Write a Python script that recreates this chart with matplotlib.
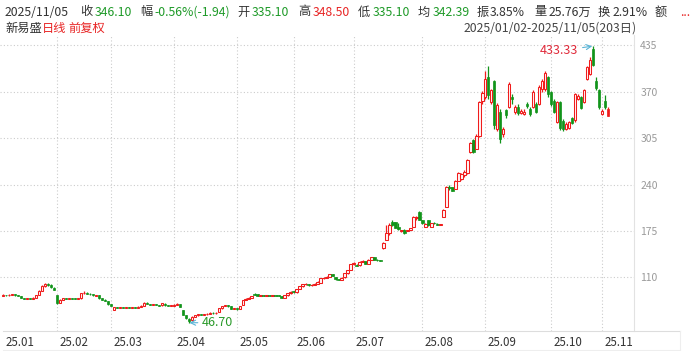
import matplotlib
matplotlib.use("Agg")
import matplotlib.pyplot as plt
import matplotlib.transforms as mtransforms
from matplotlib.lines import Line2D
import pandas as pd
import numpy as np

plt.rcParams['font.family'] = ['Noto Sans CJK SC', 'DejaVu Sans']

# ---------------- data ----------------
holidays = ['2025-01-01', '2025-01-28', '2025-01-29', '2025-01-30', '2025-01-31',
            '2025-02-03', '2025-02-04', '2025-04-04', '2025-05-01', '2025-05-02',
            '2025-05-05', '2025-06-02', '2025-10-01', '2025-10-02', '2025-10-03',
            '2025-10-06', '2025-10-07', '2025-10-08']

opens = [84.5, 85.5, 85, 86, 86.5, 85, 84, 81.5, 80.5, 81, 80.5, 82, 85.5, 91, 98, 100.5, 100, 96,
         85, 75, 79, 81, 80, 81.5, 80.5, 80, 81, 88, 89, 87, 86.5, 84.5, 85, 81, 79, 77,
         72.5, 65, 68.5, 67.5, 68, 67.5, 68, 67.5, 68, 67.5, 69, 70.5, 75, 73, 71.5, 72, 71.5, 71, 73.5, 71, 70,
         70.5, 72, 73, 64, 57, 52, 50, 55, 57, 58.5, 58, 58.5, 59.5, 61, 60, 62, 67, 70, 71, 69.5, 66,
         67, 66, 71.5, 78.5, 80.5, 82, 87.5, 87, 84.5, 85, 84.5, 85, 84.5, 85, 84.5, 84, 82, 85, 88,
         91, 89.5, 94, 97.5, 100.5, 101, 99, 100, 101.5, 103, 109, 109.5, 110.5, 115, 110, 107.5, 107, 110, 116, 121,
         129, 128, 127, 132, 133, 129.5, 135, 138, 135, 134, 151, 163, 172, 187, 187, 181, 175, 177, 175, 177, 181, 193, 202,
         190, 181, 190, 181, 186, 185, 183.5, 195, 209, 236, 236, 234, 245, 248, 253, 256, 286, 302, 290, 308, 357,
         362, 390, 356, 384, 318, 342, 310, 344, 349, 362, 341, 349, 340, 339, 352, 346, 349, 353, 353, 373, 374, 390,
         369, 357, 328, 355, 329, 318, 319, 333, 330, 360, 362, 356, 388, 395, 430, 384, 372,
         339, 357, 335.1]
closes = [85.5, 85, 86, 86.5, 85, 84, 81.5, 80.5, 81, 80.5, 82, 85.5, 91, 98, 100.5, 100, 97, 92.5,
          74.5, 79, 81, 80, 81.5, 80.5, 80, 81, 88, 89, 87, 86.5, 85, 85.5, 81, 79, 77.5, 72.5,
          70, 68.5, 67.5, 68, 67.5, 68, 67.5, 68, 67.5, 69, 70.5, 75, 73, 71.5, 72, 71.5, 70.5, 74, 71, 70, 70.5,
          72, 73.5, 69, 57.5, 53.5, 49, 55, 57, 58.5, 58, 58.5, 59.5, 61, 60, 61, 67, 70, 71, 69.5, 66, 67,
          65.5, 69.5, 78.5, 80.5, 82, 84, 85.5, 84.5, 85, 84.5, 85, 84.5, 85, 84.5, 84, 82, 85, 88, 90,
          89.5, 93.5, 97.5, 100.5, 101, 99, 100, 101.5, 104, 109, 109.5, 110.5, 115, 112, 107.5, 107, 109.5, 116, 120, 129,
          130, 126.5, 132, 133.5, 129.5, 135, 138, 135, 134, 133, 158, 172, 183, 183.5, 179.5, 178, 175.5, 172.5, 176.5, 178.5, 194, 193.5, 190.5,
          186, 185, 183, 186, 185.5, 184, 184.5, 205, 236, 234.5, 231.5, 245, 256, 255, 257, 274, 298, 286, 308, 355, 368,
          388, 365, 372, 323, 351, 304, 318, 337, 381, 359, 349, 340, 343, 342, 350, 339, 369, 342, 376, 385, 396, 366,
          352, 342, 355, 319, 317, 325, 327, 326, 366, 364, 347, 372, 404, 414, 407, 375, 348,
          343, 348.04, 346.1]
highs = [86.5, 86, 87, 87.5, 87, 85.5, 84, 82, 81.5, 81.5, 82.5, 86, 92, 99, 103, 102, 100.5, 96.5,
         86, 79.5, 81.5, 81.5, 82, 82, 81, 81.5, 88.5, 91.5, 89.5, 88, 87, 86, 85.5, 81.5, 79.5, 77.5,
         73, 69, 69, 68.5, 68.5, 68.5, 68.5, 68.5, 68.5, 69.5, 71, 75.5, 75.5, 73.5, 72.5, 72.5, 72, 74.5, 74, 71.5, 71,
         72.5, 74, 73.5, 65, 58, 53, 55.5, 57.5, 59, 59, 59, 60, 61.5, 61.5, 61.5, 67.5, 70.5, 72, 71.5, 70, 67.5,
         67.5, 70, 79, 81, 83, 84.5, 89, 87.5, 85.5, 85.5, 85.5, 85.5, 86, 85.5, 85, 84.5, 85.5, 88.5, 90.5,
         91.5, 94, 98, 101, 102, 101.5, 100.5, 102, 104.5, 109.5, 110.5, 111.5, 115.5, 115.5, 110.5, 108, 110, 116.5, 120.5, 129.5,
         131, 128.5, 132.5, 134, 133.5, 135.5, 139, 138.5, 135.5, 134.5, 159, 183, 186, 190, 188, 186, 177, 177.5, 177, 179, 195.5, 196, 203,
         191, 185.5, 190.5, 186.5, 187, 186, 185, 206, 238, 240, 237, 246, 258, 256, 260, 276, 300, 304, 310, 357, 371,
         398, 405, 374, 386, 354, 345, 320, 346, 383, 366, 351, 352, 346, 345, 356, 348, 372, 356, 379, 388, 399, 392,
         371, 359, 357, 357, 331, 327, 329, 334, 368, 366, 364, 374, 406, 418, 433.33, 390, 374,
         346, 365, 348.5]
lows = [84, 84.5, 84.5, 85.5, 84.5, 83.5, 81, 80, 80, 80, 80, 81.5, 85, 90.5, 97, 98.5, 96, 92,
        73.5, 74.5, 78.5, 79.5, 79.5, 80, 79.5, 79.5, 80.5, 87, 86.5, 86, 84.5, 84, 80.5, 78.5, 77, 72,
        69.5, 64, 67, 67, 67, 67, 67, 67, 67, 67, 68.5, 70, 72.5, 71, 71, 71, 70, 70.5, 70.5, 69.5, 69.5,
        70, 71.5, 68.5, 57, 52.5, 46.7, 49.5, 54.5, 56.5, 57.5, 57.5, 58, 59, 59.5, 59.5, 61.5, 66.5, 69.5, 69, 65.5, 65.5,
        65, 65.5, 71, 78, 80, 81.5, 85, 84, 84, 84, 84, 84, 84, 84, 83.5, 81.5, 81.5, 84.5, 87.5,
        89, 89, 93.5, 97, 100, 98.5, 98.5, 99.5, 101, 102.5, 108, 109, 110.5, 111.5, 107, 106.5, 106.5, 109.5, 115.5, 120.5,
        128, 126, 126.5, 131.5, 129, 129, 134.5, 134.5, 133.5, 132.5, 150.5, 162.5, 169, 182, 178.5, 177, 173, 171.5, 174.5, 176.5, 180.5, 191, 190,
        185, 180.5, 182, 180.5, 184.5, 183.5, 183, 194.5, 208.5, 233, 230.5, 233.5, 244.5, 246, 251, 254.5, 284, 284, 289, 306, 352,
        360, 360, 352, 318, 315, 298, 307, 333, 347, 352, 339, 337, 338, 337, 347, 336, 347, 340, 351, 370, 371, 363,
        350, 340, 326, 316, 315, 316, 317, 324, 328, 358, 345, 354, 386, 393, 405, 372, 345,
        337, 346, 335.1]

ytick_values = [110, 175, 240, 305, 370, 435]
high_label = '433.33'
low_label = '46.70'

dates = pd.bdate_range('2025-01-02', '2025-11-05', freq='C', holidays=holidays)
n = min(len(dates), len(closes))
dates = dates[:n]

# ---------------- figure ----------------
W, H = 691, 351
fig = plt.figure(figsize=(W / 100, H / 100), dpi=100)
fig.patch.set_facecolor('white')

ax_left, ax_right, ax_top, ax_bot = 0, 634, 35, 331
ax = fig.add_axes([ax_left / W, 1 - ax_bot / H, (ax_right - ax_left) / W, (ax_bot - ax_top) / H])
ax.set_facecolor('white')

RED = '#f01c1c'
GREEN = '#11941a'

for i in range(n):
    o, c, h, l = opens[i], closes[i], highs[i], lows[i]
    up = c >= o
    col = RED if up else GREEN
    ax.vlines(i, l, h, color=col, linewidth=0.9, zorder=2)
    bottom = min(o, c)
    height = max(abs(c - o), 0.9)
    if up and i != n - 1:
        ax.bar(i, height, bottom=bottom, width=0.8, facecolor='#fff4f4', edgecolor=col,
               linewidth=0.75, zorder=3)
    else:
        ax.bar(i, height, bottom=bottom, width=0.8, facecolor=col, edgecolor=col,
               linewidth=0.5, zorder=3)

ax.set_xlim(-1.035, 210.65)
ax.set_ylim(35.2, 449)

# grid
month_start = [0] + [k for k in range(1, n) if dates[k].month != dates[k - 1].month]
for k in month_start[1:]:
    ax.axvline(k, color='#cccccc', linewidth=0.8, linestyle=(0, (1, 2)), zorder=0)
for v in ytick_values:
    ax.axhline(v, color='#cccccc', linewidth=0.8, linestyle=(0, (1, 2)), zorder=0)

for s in ['top', 'left', 'bottom']:
    ax.spines[s].set_visible(False)
ax.spines['right'].set_color('#e2e2e2')
ax.spines['right'].set_linestyle((0, (1, 1)))
ax.spines['right'].set_linewidth(0.8)

ax.yaxis.tick_right()
ax.set_yticks(ytick_values)
ax.set_yticklabels([str(v) for v in ytick_values])
ax.tick_params(axis='y', length=0, pad=4.5, labelsize=7.5, labelcolor='#9a9a9a')

ax.set_xticks(month_start)
ax.set_xticklabels([d.strftime('%y.%m') for d in dates[month_start]])
ax.tick_params(axis='x', length=0, pad=3.5, labelsize=8.3, labelcolor='#333333')
offset = mtransforms.ScaledTranslation(2.5 / 100, 0, fig.dpi_scale_trans)
for lab in ax.get_xticklabels():
    lab.set_horizontalalignment('left')
    lab.set_transform(lab.get_transform() + offset)

# axis band lines
fig.add_artist(Line2D([3 / W, 680 / W], [1 - 331 / H, 1 - 331 / H], color='#dddddd', linewidth=0.8))
fig.add_artist(Line2D([3 / W, 680 / W], [1 - 349.5 / H, 1 - 349.5 / H], color='#eeeeee', linewidth=0.8))
fig.add_artist(Line2D([680 / W, 680 / W], [1 - 349.5 / H, 1 - 331 / H], color='#eeeeee', linewidth=0.8))

# annotations
hi_i = int(np.argmax(highs[:n]))
lo_i = int(np.argmin(lows[:n]))
ax.annotate(high_label, xy=(hi_i - 0.3, highs[hi_i]), xytext=(hi_i - 4.9, highs[hi_i] - 6.5),
            ha='right', va='center', color='#e02a3a', fontsize=9,
            arrowprops=dict(arrowstyle='->', color='#5ab4d6', lw=0.8, shrinkA=1, shrinkB=0))
ax.annotate(low_label, xy=(lo_i + 0.2, lows[lo_i]), xytext=(lo_i + 4.4, lows[lo_i] + 0.3),
            ha='left', va='center', color='#2a9a2a', fontsize=9,
            arrowprops=dict(arrowstyle='->', color='#5ab4d6', lw=0.8, shrinkA=1, shrinkB=0))

# header text
DARK = '#333333'
HG = '#1e9a28'
HR = '#e82525'
fs = 8.8
y1 = 1 - 12 / H
y2 = 1 - 28.5 / H
header = [
    (5, '2025/11/05', DARK), (80, '收', DARK), (94.5, '346.10', HG),
    (140, '幅', DARK), (154.5, '-0.56%(-1.94)', HG),
    (237, '开', DARK), (251.5, '335.10', HG),
    (298, '高', DARK), (312.5, '348.50', HR),
    (358, '低', DARK), (372.5, '335.10', HG),
    (418, '均', DARK), (432.5, '342.39', HG),
    (477, '振', DARK), (489.5, '3.85%', DARK),
    (534, '量', DARK), (548.5, '25.76万', DARK),
    (598, '换', DARK), (612.5, '2.91%', DARK),
    (655, '额', DARK), (680, '...', HR),
]
for x, t, c in header:
    fig.text(x / W, y1, t, color=c, fontsize=fs, ha='left', va='center')

fig.text(5 / W, y2, '新易盛', color=DARK, fontsize=fs, ha='left', va='center')
fig.text(42 / W, y2, '日线', color=HR, fontsize=fs, ha='left', va='center')
fig.text(68 / W, y2, '前复权', color=HR, fontsize=fs, ha='left', va='center')
fig.text(637 / W, y2, '2025/01/02-2025/11/05(203日)', color='#444444', fontsize=fs,
         ha='right', va='center')

fig.savefig('out.png', dpi=100, facecolor='white')
